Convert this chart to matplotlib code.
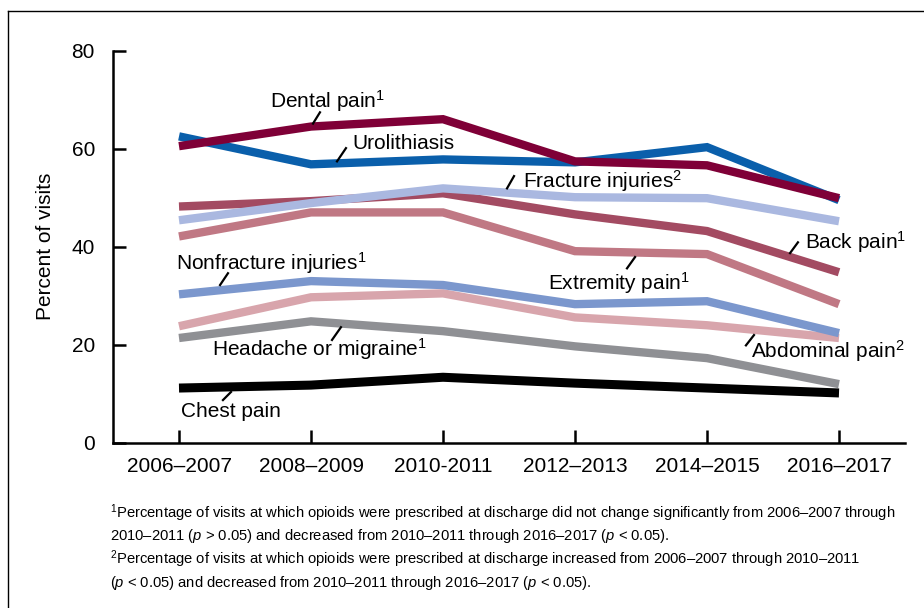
import numpy as np
import matplotlib
matplotlib.use("Agg")
import matplotlib.pyplot as plt
from matplotlib.lines import Line2D

plt.rcParams['font.family'] = ['Liberation Sans', 'DejaVu Sans']
plt.rcParams['mathtext.fontset'] = 'custom'
plt.rcParams['mathtext.rm'] = 'Liberation Sans'
plt.rcParams['mathtext.it'] = 'Liberation Sans:italic'

# %% Data
periods = ["2006\u20132007", "2008\u20132009", "2010-2011", "2012\u20132013", "2014\u20132015", "2016\u20132017"]

urolithiasis = [62.5, 56.8, 57.8, 57.2, 60.3, 49.5]
dental       = [60.5, 64.5, 66.0, 57.4, 56.6, 49.9]
back         = [48.2, 49.3, 50.9, 46.6, 43.2, 34.8]
fracture     = [45.4, 48.9, 51.9, 50.1, 49.9, 45.2]
extremity    = [42.1, 47.0, 47.0, 39.1, 38.5, 28.3]
abdominal    = [23.8, 29.7, 30.5, 25.6, 24.0, 21.4]
nonfracture  = [30.3, 33.0, 32.2, 28.3, 28.9, 22.4]
headache     = [21.4, 24.8, 22.8, 19.7, 17.3, 12.0]
chest        = [11.2, 11.8, 13.4, 12.2, 11.2, 10.2]

footnotes = [
    "$^{1}$Percentage of visits at which opioids were prescribed at discharge did not change significantly from 2006\u20132007 through",
    "2010\u20132011 ($p$ > 0.05) and decreased from 2010\u20132011 through 2016\u20132017 ($p$ < 0.05).",
    "$^{2}$Percentage of visits at which opioids were prescribed at discharge increased from 2006\u20132007 through 2010\u20132011",
    "($p$ < 0.05) and decreased from 2010\u20132011 through 2016\u20132017 ($p$ < 0.05).",
]

# %% Figure
fig = plt.figure(figsize=(9.24, 6.08), dpi=100)
ax = fig.add_axes([113/924, 165/608, 792/924, 392.5/608])

x = np.arange(len(periods))

series = [
    (urolithiasis, "#0a5fab", 6),
    (dental,       "#7f0037", 6),
    (back,         "#a34b62", 6),
    (fracture,     "#aab8e0", 6),
    (extremity,    "#c07884", 6),
    (abdominal,    "#d8a5ac", 6),
    (nonfracture,  "#7b97cd", 6),
    (headache,     "#8f9094", 6),
    (chest,        "#000000", 6.5),
]
for vals, col, lw in series:
    ax.plot(x, vals, color=col, lw=lw, solid_capstyle='butt', solid_joinstyle='miter')

# %%% labels with small leader ticks
labels = [
    ("Dental pain$^{1}$",            0.689, 69.6, (1.015, 1.068), (65.1, 67.4)),
    ("Urolithiasis",                 1.311, 61.1, (1.197, 1.265), (57.4, 60.1)),
    ("Fracture injuries$^{2}$",      2.606, 53.3, (2.485, 2.538), (51.9, 54.4)),
    ("Back pain$^{1}$",              4.742, 40.9, (4.629, 4.689), (38.7, 40.9)),
    ("Extremity pain$^{1}$",         2.795, 32.6, (3.394, 3.455), (35.6, 37.9)),
    ("Nonfracture injuries$^{1}$",  -0.023, 36.6, (0.311, 0.371), (32.2, 34.6)),
    ("Headache or migraine$^{1}$",   0.250, 19.1, (1.159, 1.227), (21.0, 23.6)),
    ("Abdominal pain$^{2}$",         4.333, 18.7, (4.295, 4.356), (19.9, 22.0)),
    ("Chest pain",                   0.015,  6.5, (0.333, 0.394), (8.75, 10.4)),
]
for txt, tx, ty, lx, ly in labels:
    ax.text(tx, ty, txt, fontsize=15, ha='left', va='center')
    ax.plot(lx, ly, color='black', lw=1.6)

# %%% axes
ax.set_xlim(-0.5, 5.5)
ax.set_ylim(0, 80)
ax.set_xticks(x)
ax.set_xticklabels(periods, fontsize=15)
ax.set_yticks([0, 20, 40, 60, 80])
ax.tick_params(axis='y', direction='in', length=9.5, width=1.8, pad=13, labelsize=15)
ax.tick_params(axis='x', direction='in', length=9.5, width=1.8, pad=10, labelsize=15)
ax.spines['top'].set_visible(False)
ax.spines['right'].set_visible(False)
ax.spines['left'].set_linewidth(1.8)
ax.spines['bottom'].set_linewidth(1.8)
ax.set_ylabel("Percent of visits", fontsize=15, labelpad=12)

# %%% footnotes
for i, line in enumerate(footnotes):
    fig.text(110/924, 1 - (513 + i*23.3)/608, line, fontsize=10.6, va='center', ha='left')

# outer frame (left and top only visible)
fig.add_artist(Line2D([8/924, 8/924], [0, 1 - 11/608], color='black', lw=1, transform=fig.transFigure))
fig.add_artist(Line2D([8/924, 1], [1 - 11/608, 1 - 11/608], color='black', lw=1, transform=fig.transFigure))

fig.savefig("out.png", dpi=100)
